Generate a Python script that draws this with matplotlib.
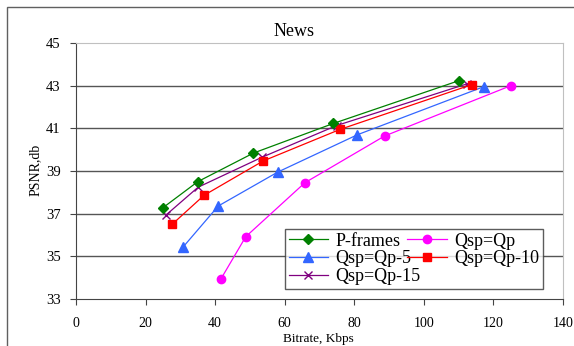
import matplotlib.pyplot as plt
from matplotlib.patches import Rectangle

plt.rcParams["font.family"] = ["Liberation Serif", "DejaVu Serif"]

# data
pframes_x = [25, 35, 51, 74, 110]
pframes_y = [37.28, 38.5, 39.84, 41.23, 43.23]
qp5_x = [30.7, 40.9, 58.0, 80.9, 117.2]
qp5_y = [35.42, 37.36, 38.95, 40.7, 42.95]
qp15_x = [25.9, 35.1, 53.4, 74.9, 112.3]
qp15_y = [36.94, 38.24, 39.64, 41.13, 43.08]
qp_x = [41.7, 48.8, 65.8, 88.7, 125.0]
qp_y = [33.95, 35.92, 38.45, 40.64, 43.0]
qp10_x = [27.7, 36.8, 53.8, 75.9, 113.8]
qp10_y = [36.51, 37.86, 39.47, 40.95, 43.05]

x_ticks = [0, 20, 40, 60, 80, 100, 120, 140]
y_ticks = [33, 35, 37, 39, 41, 43, 45]

fig = plt.figure(figsize=(5.74, 3.46), dpi=100)
ax = fig.add_axes([0.1324, 0.1358, 0.8484, 0.7399])

# outer frame, only top and left edges fall inside the picture
fig.patches.append(Rectangle((7 / 574, -0.1), 1.2, 1.1 - 7 / 346,
                             transform=fig.transFigure, fill=False,
                             edgecolor="#606060", linewidth=1.0))

for y in y_ticks[1:-1]:
    ax.axhline(y, color="#555555", linewidth=1.0, zorder=1)

lw = 0.9
ax.plot(pframes_x, pframes_y, color="#008000", marker="D", markersize=5,
        linewidth=lw, label="P-frames", zorder=5)
ax.plot(qp5_x, qp5_y, color="#3366FF", marker="^", markersize=7,
        linewidth=lw, label="Qsp=Qp-5", zorder=3)
ax.plot(qp15_x, qp15_y, color="#800080", marker="x", markersize=6,
        markeredgewidth=1.0, linewidth=lw, label="Qsp=Qp-15", zorder=4)
ax.plot(qp_x, qp_y, color="#FF00FF", marker="o", markersize=6,
        linewidth=lw, label="Qsp=Qp", zorder=3)
ax.plot(qp10_x, qp10_y, color="#FF0000", marker="s", markersize=6,
        linewidth=lw, label="Qsp=Qp-10", zorder=4)

ax.set_xlim(0, 140)
ax.set_ylim(33, 45)
ax.set_xticks(x_ticks)
ax.set_yticks(y_ticks)
ax.tick_params(axis="both", direction="out", length=4, color="#444444")
ax.tick_params(axis="x", labelsize=10, pad=9)
ax.tick_params(axis="y", labelsize=10.5, pad=7)

ax.spines["left"].set_color("#444444")
ax.spines["bottom"].set_color("#444444")
ax.spines["top"].set_color("#c0c0c0")
ax.spines["right"].set_color("#c0c0c0")

fig.text(294 / 574, 1 - 32 / 346, "News", ha="center", va="center",
         fontsize=13)
fig.text(35 / 574, 1 - 170 / 346, "PSNR,db", ha="center", va="center",
         rotation=90, fontsize=10)
fig.text(318 / 574, 1 - 339 / 346, "Bitrate, Kbps", ha="center",
         va="center", fontsize=9.5)

leg = ax.legend(ncol=2, loc="lower left",
                bbox_to_anchor=(209 / 487, 10 / 256, 258 / 487, 62 / 256),
                mode="expand", fontsize=13, frameon=True, fancybox=False,
                borderaxespad=0, borderpad=0.2, labelspacing=0.05,
                handlelength=2.2, handletextpad=0.4, columnspacing=1.0)
leg.get_frame().set_edgecolor("#333333")
leg.get_frame().set_linewidth(1.0)

fig.savefig("out.png", dpi=100)
